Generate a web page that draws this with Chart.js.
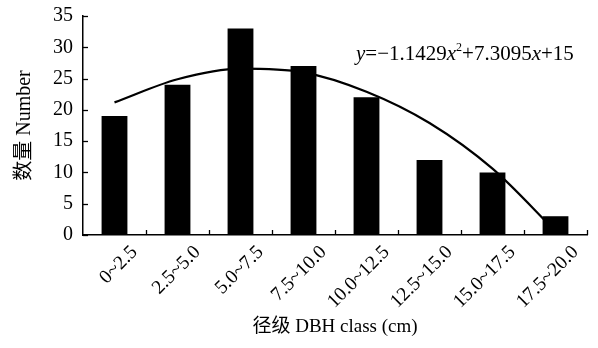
<!DOCTYPE html>
<html>
<head>
<meta charset="utf-8">
<script src="https://cdn.jsdelivr.net/npm/chart.js@4.4.1/dist/chart.umd.min.js"></script>
<style>
  html, body { margin: 0; padding: 0; background: #fff; }
  #wrap { width: 598px; height: 348px; }
</style>
</head>
<body>
<div id="wrap"><canvas id="c" width="598" height="348"></canvas></div>
<script>
const categories = ['0~2.5', '2.5~5.0', '5.0~7.5', '7.5~10.0', '10.0~12.5', '12.5~15.0', '15.0~17.5', '17.5~20.0'];
const counts = [19, 24, 33, 27, 22, 12, 10, 3];
// fitted curve values at each class centre
const trend = [21.2, 24.9, 26.6, 26.0, 22.9, 17.9, 10.6, 0.6];
const yTicks = [0, 5, 10, 15, 20, 25, 30, 35];
const yTitle = '数量 Number';
const xTitle = '径级 DBH class (cm)';

const FONT = "'Liberation Serif', 'Times New Roman', 'Noto Sans CJK SC', serif";

const extras = {
  id: 'extras',
  afterDraw(chart) {
    const ctx = chart.ctx;
    const { left, right, top, bottom } = chart.chartArea;
    const ya = chart.scales.y;
    ctx.save();
    ctx.strokeStyle = '#000';
    ctx.lineWidth = 1.3;
    ya.ticks.forEach((t, i) => {
      const py = Math.round(ya.getPixelForTick(i)) + 0.5;
      ctx.beginPath(); ctx.moveTo(left, py); ctx.lineTo(left + 5, py); ctx.stroke();
    });
    const n = categories.length;
    for (let i = 1; i <= n; i++) {
      const px = Math.round(left + (right - left) * i / n) + 0.5;
      ctx.beginPath(); ctx.moveTo(px, bottom); ctx.lineTo(px, bottom - 5); ctx.stroke();
    }
    // equation
    ctx.fillStyle = '#000';
    ctx.textBaseline = 'alphabetic';
    let x = 356, y = 60;
    const parts = [
      ['y', 'italic 21px ' + FONT, 0],
      ['=\u22121.1429', '21px ' + FONT, 0],
      ['x', 'italic 21px ' + FONT, 0],
      ['2', '12px ' + FONT, -9],
      ['+7.3095', '21px ' + FONT, 0],
      ['x', 'italic 21px ' + FONT, 0],
      ['+15', '21px ' + FONT, 0]
    ];
    parts.forEach(([t, f, dy]) => {
      ctx.font = f;
      ctx.fillText(t, x, y + dy);
      x += ctx.measureText(t).width;
    });
    ctx.restore();
  }
};

new Chart(document.getElementById('c'), {
  data: {
    labels: categories,
    datasets: [
      {
        type: 'line',
        data: trend,
        borderColor: '#000',
        borderWidth: 2.2,
        pointRadius: 0,
        cubicInterpolationMode: 'monotone',
        fill: false,
        order: 0
      },
      {
        type: 'bar',
        data: counts,
        backgroundColor: '#000',
        borderWidth: 0,
        categoryPercentage: 1,
        barPercentage: 0.41,
        order: 1
      }
    ]
  },
  options: {
    responsive: false,
    animation: false,
    devicePixelRatio: 1,
    layout: { padding: { left: 0, right: 11, top: 16, bottom: 0 } },
    plugins: { legend: { display: false }, tooltip: { enabled: false } },
    scales: {
      x: {
        offset: true,
        grid: { display: false, drawTicks: false },
        border: { display: true, color: '#000', width: 1.5 },
        ticks: {
          color: '#000',
          font: { family: FONT, size: 19.5 },
          minRotation: 45, maxRotation: 45,
          labelOffset: 20,
          padding: 6,
          autoSkip: false
        },
        title: { display: true, text: xTitle, color: '#000', font: { family: FONT, size: 19 }, padding: { top: 6, bottom: 10 } },
        afterFit(s) { s.height = 113; s.paddingLeft = 0; s.paddingRight = 0; }
      },
      y: {
        min: 0, max: 35,
        afterBuildTicks(s) { s.ticks = yTicks.map(v => ({ value: v })); },
        grid: { display: false, drawTicks: false },
        border: { display: true, color: '#000', width: 1.5 },
        ticks: { color: '#000', font: { family: FONT, size: 20 }, padding: 10 },
        title: { display: true, text: yTitle, color: '#000', font: { family: FONT, size: 20 }, padding: { top: 12.5, bottom: 4 } },
        afterFit(s) { s.width = 83; s.paddingTop = 0; s.paddingBottom = 0; }
      }
    }
  },
  plugins: [extras]
});
</script>
</body>
</html>
